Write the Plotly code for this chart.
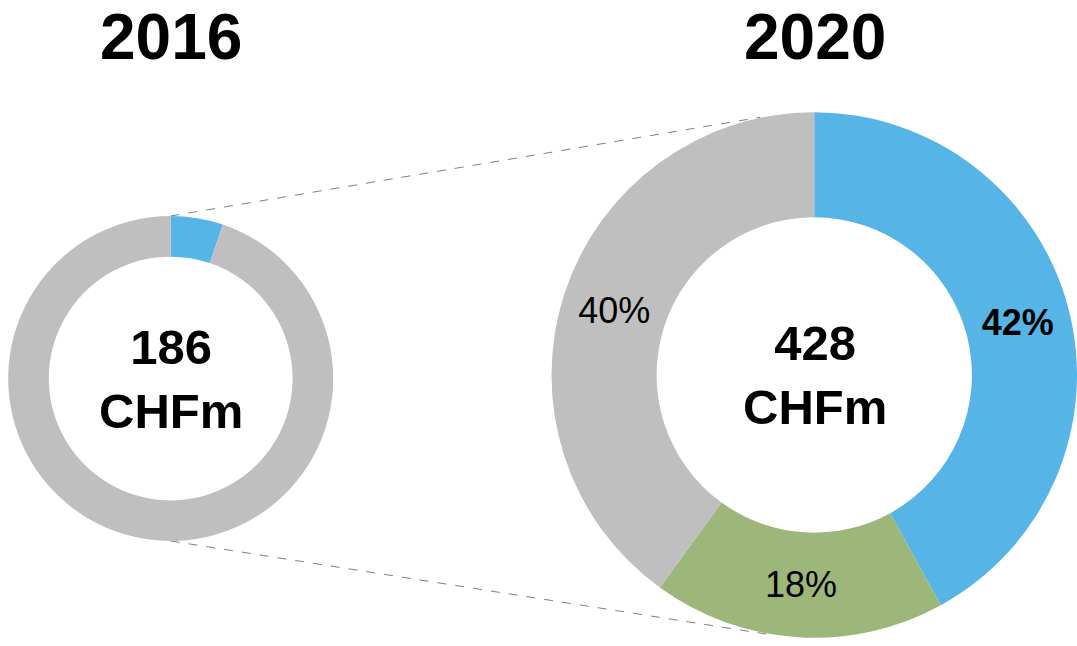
import math
import plotly.graph_objects as go

# data
years = ["2016", "2020"]
totals = ["186", "428"]
labels_2016 = ["Segment A", "Other"]
shares_2016 = [5.2, 94.8]
labels_2020 = ["Segment A", "Segment B", "Other"]
shares_2020 = [42, 18, 40]
text_2020 = ["<b>42%</b>", "18%", "40%"]

blue = "#56B5E6"
green = "#9DB77B"
grey = "#BFBFBF"
font = "Liberation Sans, Arial, sans-serif"

W, H = 1077, 646

# donut geometry in pixels (centre x, centre y, outer radius)
small = (170.7, 378.5, 162.5)
big = (815.0, 375.0, 263.5)


def px_domain(cx, cy, r, extra_y=0):
    x0 = max(0, (cx - r) / W)
    x1 = min(1, (cx + r) / W)
    y0 = max(0, (H - cy - r - extra_y) / H)
    y1 = min(1, (H - cy + r + extra_y) / H)
    return dict(x=[x0, x1], y=[y0, y1])


fig = go.Figure()

fig.add_trace(go.Pie(
    labels=labels_2016, values=shares_2016,
    hole=0.75, sort=False, direction="clockwise", rotation=0,
    marker=dict(colors=[blue, grey], line=dict(width=0)),
    textinfo="none", hoverinfo="label+percent",
    domain=px_domain(*small),
    showlegend=False,
))

fig.add_trace(go.Pie(
    labels=labels_2020, values=shares_2020, text=text_2020,
    hole=0.6, sort=False, direction="clockwise", rotation=0,
    marker=dict(colors=[blue, green, grey], line=dict(width=0)),
    textinfo="text", textposition="inside",
    insidetextorientation="horizontal",
    textfont=dict(family=font, size=36, color="black"),
    hoverinfo="label+percent",
    domain=px_domain(*big, extra_y=3),
    showlegend=False,
))


def to_paper(x, y):
    return x / W, (H - y) / H


# dashed connectors between the two donuts
def arc_point(c, deg):
    cx, cy, r = c
    a = math.radians(deg)
    return cx + r * math.sin(a), cy - r * math.cos(a)


for s_deg, b_deg in [(0, 348), (180, 190)]:
    x0, y0 = to_paper(*arc_point(small, s_deg))
    x1, y1 = to_paper(*arc_point(big, b_deg))
    fig.add_shape(type="line", xref="paper", yref="paper",
                  x0=x0, y0=y0, x1=x1, y1=y1, layer="below",
                  line=dict(color="#808080", width=1, dash="dash"))

annotations = []
for (cx, cy, r), yr, tot in zip([small, big], years, totals):
    px_, py_ = to_paper(cx, cy)
    annotations.append(dict(
        x=px_, y=py_, xref="paper", yref="paper",
        text="<b>%s<br>CHFm</b>" % tot, showarrow=False,
        font=dict(family=font, size=49, color="black"),
        xanchor="center", yanchor="middle"))
    tx, ty = to_paper(cx, 37)
    annotations.append(dict(
        x=tx, y=ty, xref="paper", yref="paper",
        text="<b>%s</b>" % yr, showarrow=False,
        font=dict(family=font, size=64, color="black"),
        xanchor="center", yanchor="middle"))

fig.update_layout(
    width=W, height=H,
    margin=dict(l=0, r=0, t=0, b=0),
    paper_bgcolor="white", plot_bgcolor="white",
    annotations=annotations,
)

# drop the default page margin so the figure sits at the window corner
fig.write_html("out.html", config={"displayModeBar": False},
               post_script="document.body.style.margin='0';")
